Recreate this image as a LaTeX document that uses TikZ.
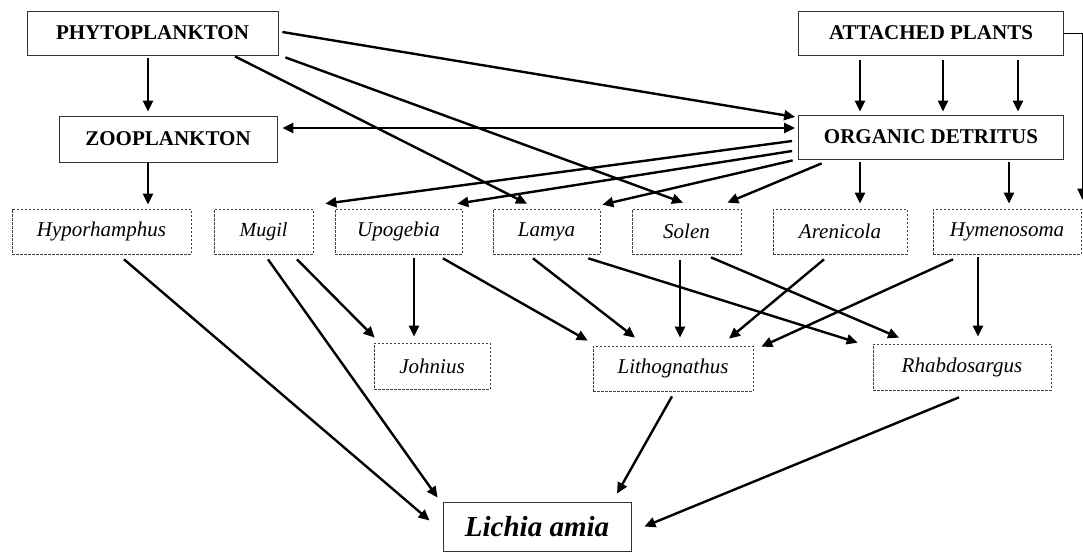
\documentclass[tikz,border=0pt]{standalone}
\usepackage{fontspec}
\setmainfont{Liberation Serif}
\usetikzlibrary{positioning,arrows.meta}

\tikzset{
  group/.style={draw=black!80, line width=0.8pt, inner sep=0pt, minimum height=44pt,
    font=\fontsize{21}{24}\selectfont\bfseries},
  taxon/.style={draw=black!75, line width=0.7pt, dash pattern=on 2.5pt off 1.5pt,
    inner sep=0pt, minimum height=45pt, font=\fontsize{21}{24}\selectfont\itshape},
  feed/.style={line width=2.4pt, ->},
  link/.style={line width=1pt, ->},
}

\begin{document}
\begin{tikzpicture}[x=1pt,y=-1pt,>={Triangle[length=11pt,width=10pt]}]

  \useasboundingbox (0,0) rectangle (1083,552);

  \node[group, minimum width=251pt] (phyto) at (152.5,33) {PHYTOPLANKTON};
  \node[group, minimum width=218pt, minimum height=46pt] (zoo) at (168,139) {ZOOPLANKTON};
  \node[group, minimum width=265pt] (attached) at (931,33) {ATTACHED PLANTS};
  \node[group, minimum width=265pt] (organic) at (931,137) {ORGANIC DETRITUS};

  \node[taxon, minimum width=179pt] (hypo) at (101.5,231.5) {Hyporhamphus};
  \node[taxon, minimum width=99pt, font=\fontsize{20}{24}\selectfont\itshape] (mugil) at (263.5,231.5) {Mugil};
  \node[taxon, minimum width=127pt] (upogebia) at (398.5,231.5) {Upogebia};
  \node[taxon, minimum width=107pt] (lamya) at (546.5,231.5) {Lamya};
  \node[taxon, minimum width=109pt] (solen) at (686.5,231.5) {Solen};
  \node[taxon, minimum width=134pt] (arenicola) at (840,231.5) {Arenicola};
  \node[taxon, minimum width=148pt] (hymeno) at (1007,231.5) {Hymenosoma};

  \node[taxon, minimum width=116pt, minimum height=46pt] (johnius) at (432,366) {Johnius};
  \node[taxon, minimum width=160pt] (litho) at (673,368.5) {Lithognathus};
  \node[taxon, minimum width=178pt, minimum height=46pt] (rhabdo) at (962,367) {Rhabdosargus};

  \node[group, minimum width=188pt, minimum height=49pt,
    font=\fontsize{29}{32}\selectfont\bfseries\itshape] (lichia) at (537,526.5) {Lichia amia};

  % plankton and detritus
  \draw[feed] ([xshift=-4.5pt,yshift=-3pt]phyto.south) -- ([xshift=-20pt,yshift=4pt]zoo.north);
  \draw[feed] ([xshift=-20pt,yshift=-1pt]zoo.south) -- ([xshift=46.5pt,yshift=4pt]hypo.north);
  \draw[feed,<->] ([xshift=5pt,yshift=11pt]zoo.east) -- ([xshift=-3pt,yshift=9pt]organic.west);
  \draw[feed] ([xshift=4pt,yshift=1pt]phyto.east) -- ([xshift=-3pt,yshift=20pt]organic.west);
  \draw[feed] ([xshift=82.5pt,yshift=-1pt]phyto.south) -- ([xshift=-19.5pt,yshift=5pt]lamya.north);
  \draw[feed] ([xshift=7pt,yshift=-2pt]phyto.south east) -- ([xshift=-3.5pt,yshift=6pt]solen.north);
  \foreach \dx in {-71,12,87}
    \draw[feed] ([xshift=\dx pt,yshift=-5pt]attached.south) -- ([xshift=\dx pt,yshift=3pt]organic.north);
  \draw[link] (attached.east) -| ([xshift=1pt,yshift=9pt]hymeno.north east);

  \draw[feed] ([xshift=-6pt,yshift=-4pt]organic.west) -- ([xshift=12pt,yshift=5pt]mugil.north east);
  \draw[feed] ([xshift=-6pt,yshift=-14pt]organic.west) -- ([xshift=-5pt,yshift=5pt]upogebia.north east);
  \draw[feed] ([xshift=-5.5pt,yshift=-1pt]organic.south west) -- ([xshift=2pt,yshift=4pt]lamya.north east);
  \draw[feed] ([xshift=23.5pt,yshift=-4pt]organic.south west) -- ([xshift=-14pt,yshift=6pt]solen.north east);
  \draw[feed] ([xshift=-71pt,yshift=-3pt]organic.south) -- ([xshift=20pt,yshift=5pt]arenicola.north);
  \draw[feed] ([xshift=78pt,yshift=-3pt]organic.south) -- ([xshift=2pt,yshift=5pt]hymeno.north);

  % prey to fish
  \draw[feed] ([xshift=22.5pt,yshift=-5pt]hypo.south) -- ([xshift=-13pt,yshift=6pt]lichia.west);
  \draw[feed] ([xshift=4.5pt,yshift=-5pt]mugil.south) -- ([xshift=-5pt,yshift=4pt]lichia.north west);
  \draw[feed] ([xshift=33.5pt,yshift=-5pt]mugil.south) -- ([xshift=1pt,yshift=5pt]johnius.north west);
  \draw[feed] ([xshift=15.5pt,yshift=-4pt]upogebia.south) -- ([xshift=-18pt,yshift=6pt]johnius.north);
  \draw[feed] ([xshift=44.5pt,yshift=-4pt]upogebia.south) -- ([xshift=-5pt,yshift=5pt]litho.north west);
  \draw[feed] ([xshift=-13.5pt,yshift=-4pt]lamya.south) -- ([xshift=-38pt,yshift=8pt]litho.north);
  \draw[feed] ([xshift=-12pt,yshift=-4pt]lamya.south east) -- ([xshift=-15pt,yshift=1pt]rhabdo.north west);
  \draw[feed] ([xshift=-6.5pt,yshift=-6pt]solen.south) -- ([xshift=7pt,yshift=8pt]litho.north);
  \draw[feed] ([xshift=24.5pt,yshift=-3pt]solen.south) -- ([xshift=-63pt,yshift=6pt]rhabdo.north);
  \draw[feed] ([xshift=-16pt,yshift=-5pt]arenicola.south) -- ([xshift=56pt,yshift=7pt]litho.north);
  \draw[feed] ([xshift=-54pt,yshift=-5pt]hymeno.south) -- ([xshift=8pt,yshift=-1pt]litho.north east);
  \draw[feed] ([xshift=-29pt,yshift=-3pt]hymeno.south) -- ([xshift=16pt,yshift=7pt]rhabdo.north);
  \draw[feed] ([xshift=-1pt,yshift=-5pt]litho.south) -- ([xshift=80pt,yshift=8pt]lichia.north);
  \draw[feed] ([xshift=-3pt,yshift=-7pt]rhabdo.south) -- ([xshift=13pt]lichia.east);

\end{tikzpicture}
\end{document}
